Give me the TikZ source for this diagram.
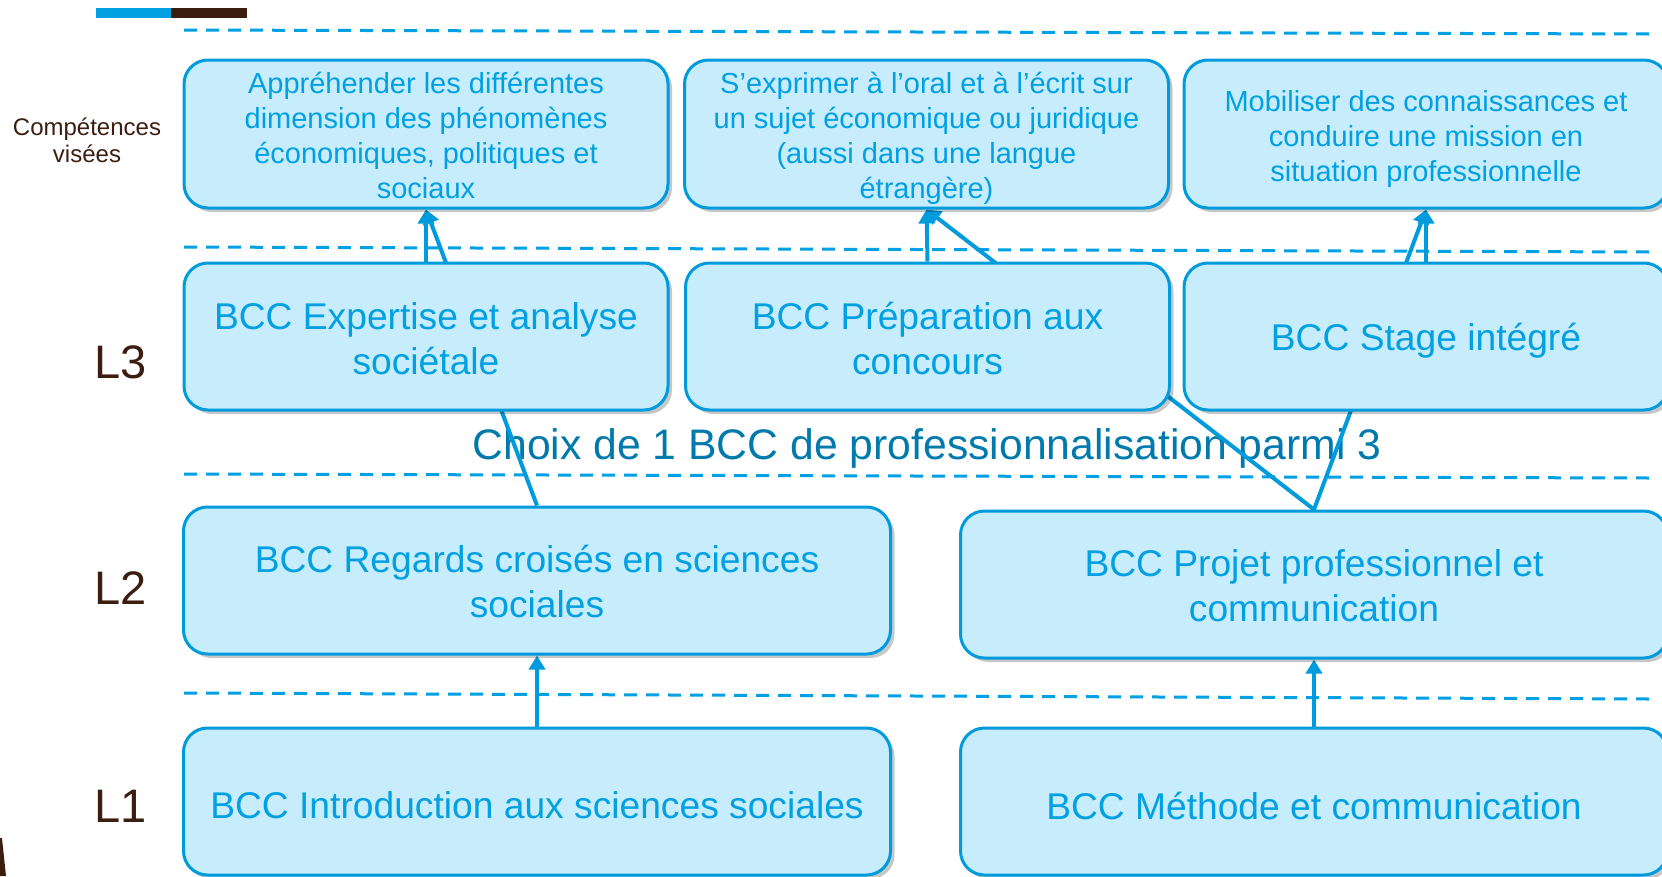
\documentclass[tikz,border=0pt]{standalone}
\usepackage{fontspec}
\setmainfont{Liberation Sans}
\usetikzlibrary{arrows.meta,shadows}
\definecolor{fillc}{RGB}{199,236,252}
\definecolor{bordc}{RGB}{0,155,220}
\definecolor{textc}{RGB}{0,160,227}
\definecolor{choixc}{RGB}{0,121,172}
\definecolor{brownc}{RGB}{60,30,16}
\definecolor{dashc}{RGB}{0,160,227}
\newcommand\fTop{\fontsize{29}{35}\selectfont}
\newcommand\fBcc{\fontsize{37.2}{45.5}\selectfont}
\newcommand\fChoix{\fontsize{42.7}{50}\selectfont}
\newcommand\fSide{\fontsize{24}{27}\selectfont}
\newcommand\fLevel{\fontsize{47}{50}\selectfont}
\pgfdeclarelayer{back}
\pgfdeclarelayer{conn}
\pgfsetlayers{back,conn,main}
\tikzset{
  box/.style={draw=bordc, fill=fillc, line width=3pt, rounded corners=24pt,
    inner sep=0pt,
    drop shadow={shadow xshift=4pt, shadow yshift=-4pt, opacity=0.22, fill=black}},
  topbox/.style={box, minimum width=484pt, minimum height=148pt},
  midbox/.style={box, minimum width=484pt, minimum height=147pt},
  widebox/.style={box, minimum width=707pt, minimum height=147pt},
  toptxt/.style={align=center, text=textc, inner sep=0pt, font=\fTop},
  bcctxt/.style={align=center, text=textc, inner sep=0pt, font=\fBcc},
  conn/.style={draw=bordc, line width=4pt, -{Triangle[length=14pt,width=16pt]}},
  dashline/.style={draw=dashc, line width=3pt, dash pattern=on 13pt off 9pt},
  side/.style={text=brownc, align=center, inner sep=0pt}
}
\begin{document}
\begin{tikzpicture}[x=1pt,y=-1pt]
\useasboundingbox (0,0) rectangle (1662,876);

% top bar and corner shape
\fill[textc] (96,8) rectangle (171,18);
\fill[brownc] (171,8) rectangle (247,18);
\fill[brownc] (0,838) -- (2,838) -- (6,876) -- (0,876) -- cycle;

\begin{pgfonlayer}{back}
\draw[dashline] (184,30) -- (1650,34);
\draw[dashline] (184,247) -- (1650,252);
\draw[dashline] (184,474) -- (1650,478);
\draw[dashline] (184,693) -- (1650,699);
\node[text=choixc, inner sep=0pt, font=\fChoix] (choix) at (927,448) {Choix de 1 BCC de professionnalisation parmi 3};
\end{pgfonlayer}

% side labels
\node[side, font=\fSide] (comp) at (87,140) {Compétences\\visées};
\node[side, font=\fLevel] (l3) at (121,362) {L3};
\node[side, font=\fLevel] (l2) at (121,588) {L2};
\node[side, font=\fLevel] (l1) at (121,806) {L1};

% competences row
\node[topbox] (A) at (426,134) {};
\node[toptxt] (A-t) at ([yshift=-1pt]A.center) {Appréhender les différentes\\dimension des phénomènes\\économiques, politiques et\\sociaux};
\node[topbox] (B) at (926.5,134) {};
\node[toptxt] (B-t) at ([yshift=-4pt]B.center) {S’exprimer à l’oral et à l’écrit sur\\un sujet économique ou juridique\\(aussi dans une langue\\étrangère)};
\node[topbox] (C) at (1426,134) {};
\node[toptxt] (C-t) at ([yshift=-5pt]C.center) {Mobiliser des connaissances et\\conduire une mission en\\situation professionnelle};

% L3
\node[midbox] (exp) at (426,336.5) {};
\node[bcctxt] (exp-t) at ([yshift=-2pt]exp.center) {BCC Expertise et analyse\\sociétale};
\node[midbox] (prep) at (927.5,336.5) {};
\node[bcctxt] (prep-t) at ([yshift=-2pt]prep.center) {BCC Préparation aux\\concours};
\node[midbox] (stage) at (1426,336.5) {};
\node[bcctxt] (stage-t) at ([yshift=-4pt]stage.center) {BCC Stage intégré};

% L2
\node[widebox] (reg) at (537,580.5) {};
\node[bcctxt] (reg-t) at ([yshift=-1pt]reg.center) {BCC Regards croisés en sciences\\sociales};
\node[widebox] (proj) at (1314,584.5) {};
\node[bcctxt] (proj-t) at ([yshift=-1pt]proj.center) {BCC Projet professionnel et\\communication};

% L1
\node[widebox] (intro) at (537,801.5) {};
\node[bcctxt] (intro-t) at ([yshift=-4pt]intro.center) {BCC Introduction aux sciences sociales};
\node[widebox] (meth) at (1314,801.5) {};
\node[bcctxt] (meth-t) at ([yshift=-4pt]meth.center) {BCC Méthode et communication};

\begin{pgfonlayer}{conn}
\draw[conn] (exp.north) -- (A.south);
\draw[conn] (prep.north) -- (B.south);
\draw[conn] (stage.north) -- (C.south);
\draw[conn] (reg.north) -- (A.south);
\draw[conn] (proj.north) -- (B.south);
\draw[conn] (proj.north) -- (C.south);
\draw[conn] (intro.north) -- (reg.south);
\draw[conn] (meth.north) -- (proj.south);
\end{pgfonlayer}
\end{tikzpicture}
\end{document}
